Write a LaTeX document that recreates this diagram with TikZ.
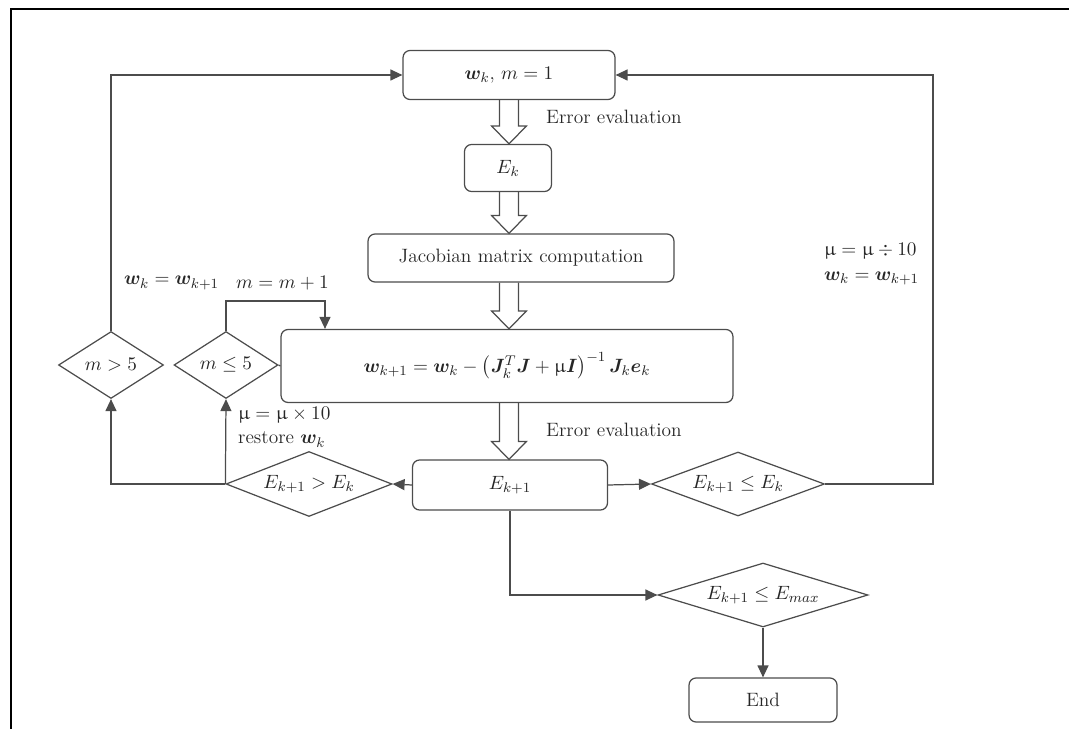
\documentclass[tikz,border=0pt]{standalone}
\usepackage{amsmath,amssymb}
\usepackage{bm}
\usepackage{upgreek}
\usetikzlibrary{arrows.meta,shapes.geometric,calc}

\begin{document}
\begin{tikzpicture}[
	x=0.02cm, y=-0.02cm,
	every node/.style={font=\fontsize{11}{14}\selectfont, text=black!85},
	flow/.style={draw=black!70, line width=0.7pt},
	arr/.style={flow, -{Triangle[length=2.4mm,width=2.2mm]}},
	box/.style={flow, rectangle, rounded corners=4pt, inner sep=0pt},
	decision/.style={flow, diamond, aspect=2.6, inner sep=0pt},
]
\useasboundingbox (0,0) rectangle (1069,729);

% frame
\draw[black, line width=1pt] (11,729) -- (11,9) -- (1069,9);

% main column
\node[box, minimum width=4.24cm, minimum height=0.98cm] (wk) at (509,75) {$\bm{w}_k$, $m=1$};
\node[box, minimum width=1.74cm, minimum height=0.94cm] (Ek) at (508,168) {$E_k$};
\node[box, minimum width=6.12cm, minimum height=0.96cm] (jac) at (521,258) {Jacobian matrix computation};
\node[box, minimum width=9.04cm, minimum height=1.46cm] (upd) at (507,366)
	{$\bm{w}_{k+1}=\bm{w}_k-\bigl(\bm{J}_k^T\bm{J}+\upmu\bm{I}\bigr)^{-1}\,\bm{J}_k\bm{e}_k$};
\node[box, minimum width=3.9cm, minimum height=1.0cm] (Ek1) at (510,485) {$E_{k+1}$};

% decisions
\node[decision, minimum width=3.46cm, minimum height=1.28cm] (dle) at (738,484) {$E_{k+1}\le E_k$};
\node[decision, minimum width=3.32cm, minimum height=1.30cm] (dgt) at (309,484) {$E_{k+1}>E_k$};
\node[decision, minimum width=2.08cm, minimum height=1.34cm] (mle) at (226,365) {$m\le 5$};
\node[decision, minimum width=2.10cm, minimum height=1.34cm] (mgt) at (111,365) {$m>5$};
\node[decision, minimum width=4.2cm, minimum height=1.28cm] (dmax) at (763,595) {$E_{k+1}\le E_{max}$};
\node[box, minimum width=2.96cm, minimum height=0.88cm] (endb) at (763,700) {End};

% labels
\node[anchor=west] (ev1) at (540,117) {Error evaluation};
\node[anchor=west] (ev2) at (540,430) {Error evaluation};
\node[anchor=west, align=left] (dec) at (818,264) {$\upmu=\upmu\div 10$\\$\bm{w}_k=\bm{w}_{k+1}$};
\node[anchor=west] (keep) at (118,283) {$\bm{w}_k=\bm{w}_{k+1}$};
\node[anchor=west] (inc) at (230,283) {$m=m+1$};
\node[anchor=west, align=left] (rest) at (232,427) {$\upmu=\upmu\times 10$\\restore $\bm{w}_k$};

% hollow arrows
\foreach \src/\dst in {wk/Ek, Ek/jac, jac/upd, upd/Ek1}
	\draw[flow] ($(\src.south -| wk.south)+(-9.5,0)$) -- ($(\dst.north -| wk.south)+(-9.5,-18)$)
		-- ++(-8,0) -- (\dst.north -| wk.south) -- ++(17.5,-18) -- ++(-8,0)
		-- ($(\src.south -| wk.south)+(9.5,0)$);

% connections
\coordinate (rr) at (933,484);
\coordinate (mt) at (325,301);
\draw[arr] (mgt.north) |- (wk.west);
\draw[arr] (dle.east) -- (rr) |- (wk.east);
\draw[arr] (Ek1.east) -- (dle.west);
\draw[arr] (Ek1.west) -- (dgt.east);
\draw[arr] (dgt.west) -| (mgt.south);
\draw[arr] (dgt.west) -- (mle.south);
\draw[arr] (mle.north) |- (mt) -- (mt |- upd.north);
\draw[flow] (mle.east) -- (upd.west);
\draw[arr] (Ek1.south) |- (dmax.west);
\draw[arr] (dmax.south) -- (endb.north);

\end{tikzpicture}
\end{document}
